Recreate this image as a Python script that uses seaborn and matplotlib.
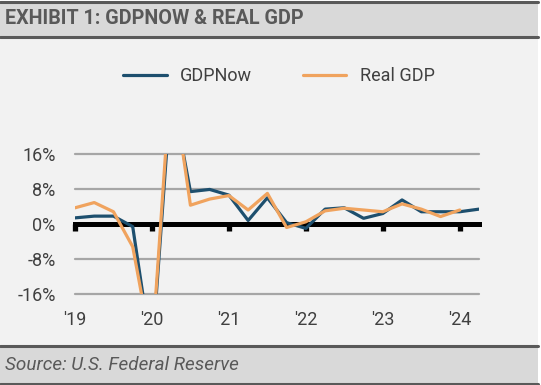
import matplotlib
matplotlib.use("Agg")
import matplotlib.pyplot as plt
import seaborn as sns
import pandas as pd
from matplotlib.patches import Rectangle
from matplotlib.lines import Line2D

# quarterly points, index 0 sits on the '19 tick
quarters = list(range(22))
gdpnow = [1.4, 1.8, 1.8, -0.6, -30.0, 31.0, 7.4, 7.9, 6.6, 0.8, 6.0,
          0.3, -1.0, 3.4, 3.7, 1.3, 2.4, 5.5, 2.8, 2.8, 2.8, 3.4]
real_gdp = [3.7, 4.9, 2.8, -5.2, -28.8, 34.8, 4.3, 5.7, 6.5, 3.2, 7.0,
            -0.8, 0.5, 3.0, 3.6, 3.2, 2.8, 4.6, 3.4, 1.7, 3.2]
year_ticks = [0, 4, 8, 12, 16, 20]
year_labels = ["'19", "'20", "'21", "'22", "'23", "'24"]
y_ticks = [-16, -8, 0, 8, 16]

BLUE = "#1d4f6e"
ORANGE = "#f0a35e"
TEXT = "#404040"
NARROW = ["Roboto", "DejaVu Sans"]

df = pd.concat([
    pd.DataFrame({"q": quarters, "value": gdpnow, "series": "GDPNow"}),
    pd.DataFrame({"q": quarters[:len(real_gdp)], "value": real_gdp, "series": "Real GDP"}),
])

sns.set_theme(style="white")
plt.rcParams["font.family"] = NARROW

W, H = 541, 385
fig = plt.figure(figsize=(W / 100, H / 100), dpi=100, facecolor="white")

def fx(px):
    return px / W

def fy(py):
    return 1 - py / H

# panel background, header and footer bands
fig.add_artist(Rectangle((0, fy(345)), fx(538), fy(38) - fy(345),
                         transform=fig.transFigure, facecolor="#f2f2f2", edgecolor="none", zorder=0))
fig.add_artist(Rectangle((0, fy(37)), fx(538), fy(2) - fy(37),
                         transform=fig.transFigure, facecolor="#d9d9d9", edgecolor="none", zorder=0))
fig.add_artist(Rectangle((0, fy(383)), fx(538), fy(347) - fy(383),
                         transform=fig.transFigure, facecolor="#d9d9d9", edgecolor="none", zorder=0))
for py in [1.5, 37, 346, 383.5]:
    fig.add_artist(Line2D([0, fx(538)], [fy(py), fy(py)], transform=fig.transFigure,
                          color="#595959", lw=2.2, zorder=1))

fig.text(fx(5), fy(19), "EXHIBIT 1: GDPNOW & REAL GDP", fontsize=14.2, fontweight="bold",
         color="#595959", ha="left", va="center", family=NARROW)
fig.text(fx(5), fy(365), "Source: U.S. Federal Reserve", fontsize=13.6, fontstyle="italic",
         color="#595959", ha="left", va="center", family=NARROW)

ax = fig.add_axes([fx(75), fy(294), fx(479) - fx(75), fy(154) - fy(294)])
ax.set_facecolor("none")

sns.lineplot(data=df, x="q", y="value", hue="series", palette=[BLUE, ORANGE],
             linewidth=2.3, ax=ax, zorder=3)

ax.set_xlim(0, 21)
ax.set_ylim(-16, 16)
ax.set_xlabel("")
ax.set_ylabel("")

# horizontal grid
ax.set_yticks(y_ticks, labels=[f"{v}%" for v in y_ticks])
ax.yaxis.grid(True, color="#a6a6a6", lw=1.6)
for gl in ax.yaxis.get_gridlines():
    gl.set_clip_on(False)
ax.tick_params(axis="y", length=0, pad=14, labelsize=13, labelcolor=TEXT)

# zero line with year ticks
for s in ["left", "right", "top"]:
    ax.spines[s].set_visible(False)
ax.spines["bottom"].set_position(("data", 0))
ax.spines["bottom"].set_color("black")
ax.spines["bottom"].set_linewidth(3.6)
ax.set_xticks(year_ticks)
ax.tick_params(axis="x", direction="out", length=5, width=3.8, color="black",
               labelbottom=False, bottom=True)

# year labels at bottom
sec = ax.secondary_xaxis("bottom")
sec.set_xticks(year_ticks, labels=year_labels)
sec.spines["bottom"].set_visible(False)
sec.tick_params(length=0, pad=12, labelsize=13, labelcolor=TEXT)

handles, labels = ax.get_legend_handles_labels()
ax.legend(handles, labels, loc="center", bbox_to_anchor=(fx(279), fy(76)),
          bbox_transform=fig.transFigure, ncol=2, frameon=False, fontsize=13,
          labelcolor=TEXT, handlelength=2.4, columnspacing=2.8, handletextpad=0.75)

fig.savefig("out.png", dpi=100, facecolor="white")
